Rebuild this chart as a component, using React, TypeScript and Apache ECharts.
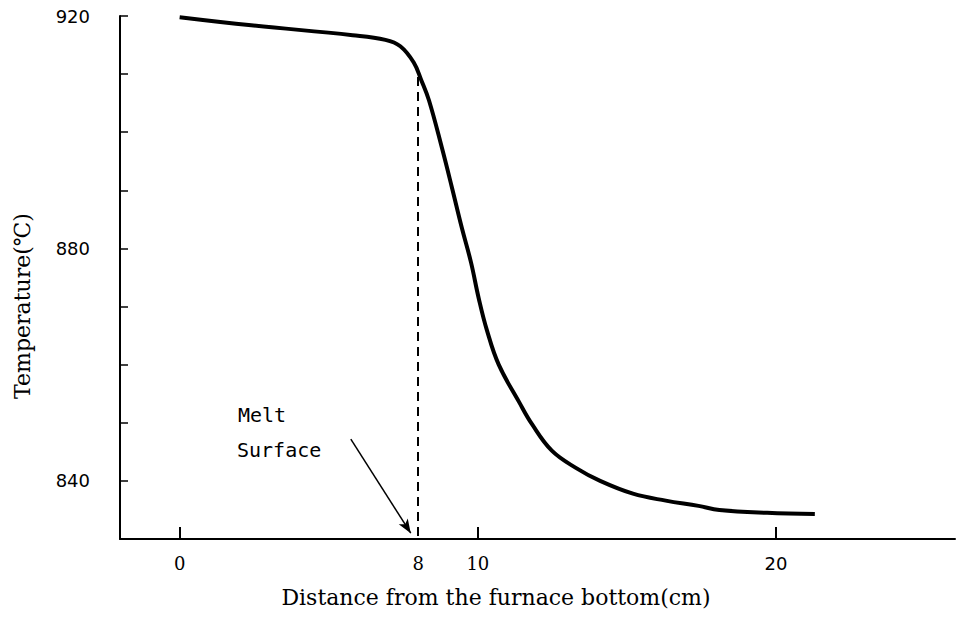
import React, { useEffect, useRef } from "react";
import * as echarts from "echarts";

const distances = [0, 2.4, 5.8, 6.9, 7.4, 7.85, 8.1, 8.36, 8.79, 9.13, 9.46, 9.77, 10.03, 10.3, 10.7, 11.38, 11.81, 12.48, 13.3, 14.1, 15.2, 16.3, 17.4, 18.1, 19.7, 21.3];
const temperatures = [919.8, 918.4, 916.7, 915.9, 914.8, 912.0, 909.0, 905.5, 897.4, 890.5, 883.6, 877.6, 871.4, 866.0, 860.0, 853.6, 849.8, 845.2, 842.2, 840.0, 837.8, 836.6, 835.7, 835.0, 834.5, 834.3];
const xTickValues = [0, 10, 20];
const xLabelValues = [0, 8, 10, 20];
const yLabelValues = [840, 880, 920];
const meltSurfaceX = 8;
const meltLineTop = 909.5;
const arrowFrom = [5.74, 847.2];
const arrowTo = [7.75, 831];

export default function App() {
  const ref = useRef<HTMLDivElement>(null);
  useEffect(() => {
    if (!ref.current) return;
    const chart = echarts.init(ref.current, null, { renderer: "svg" });
    const serif = "DejaVu Serif";
    chart.setOption({
      animation: false,
      backgroundColor: "#fff",
      grid: { left: 120, right: 3, top: 16, bottom: 88, containLabel: false },
      xAxis: {
        type: "value",
        min: -2,
        max: 26,
        interval: 2,
        axisLine: { show: true, onZero: false, lineStyle: { color: "#000", width: 2 } },
        axisTick: { show: true, inside: true, length: 12, customValues: xTickValues, lineStyle: { color: "#000", width: 2 } },
        axisLabel: {
          margin: 15,
          color: "#000",
          fontSize: 18,
          fontFamily: serif,
          formatter: (v: number) => (xLabelValues.includes(v) ? (v === 20 ? "{s|20}" : String(v)) : ""),
          rich: { s: { fontFamily: "DejaVu Sans", fontSize: 18, color: "#000" } },
        },
        splitLine: { show: false },
      },
      yAxis: {
        type: "value",
        min: 830,
        max: 920,
        interval: 10,
        axisLine: { show: true, onZero: false, lineStyle: { color: "#000", width: 2 } },
        axisTick: { show: true, inside: true, length: 8, lineStyle: { color: "#000", width: 1.5 } },
        axisLabel: {
          margin: 30,
          color: "#000",
          fontSize: 18,
          fontFamily: "DejaVu Sans",
          formatter: (v: number) => (yLabelValues.includes(v) ? String(v) : ""),
        },
        splitLine: { show: false },
      },
      graphic: [
        { type: "text", left: 238, top: 405, style: { text: "Melt", fontFamily: "DejaVu Sans Mono", fontSize: 20, fill: "#000" } },
        { type: "text", left: 237, top: 440, style: { text: "Surface", fontFamily: "DejaVu Sans Mono", fontSize: 20, fill: "#000" } },
        {
          type: "text",
          x: 22,
          y: 306,
          rotation: Math.PI / 2,
          style: { text: "Temperature(℃)", fontFamily: serif, fontSize: 22, fill: "#000", align: "center", verticalAlign: "middle" },
        },
        {
          type: "text",
          x: 496,
          y: 597,
          style: { text: "Distance from the furnace bottom(cm)", fontFamily: serif, fontSize: 22, fill: "#000", align: "center", verticalAlign: "middle" },
        },
      ],
      series: [
        {
          type: "line",
          data: distances.map((d, i) => [d, temperatures[i]]),
          smooth: 0.4,
          showSymbol: false,
          lineStyle: { color: "#000", width: 4 },
          markLine: {
            silent: true,
            animation: false,
            label: { show: false },
            data: [
              [
                { coord: [meltSurfaceX, meltLineTop], symbol: "none", lineStyle: { type: [9, 6], width: 2, color: "#000" } },
                { coord: [meltSurfaceX, 830], symbol: "none" },
              ],
              [
                { coord: arrowFrom, symbol: "none", lineStyle: { type: "solid", width: 1.5, color: "#000" } },
                { coord: arrowTo, symbol: "arrow", symbolSize: [8, 14] },
              ],
            ],
          },
        },
      ],
    });
    return () => chart.dispose();
  }, []);
  return <div ref={ref} style={{ position: "fixed", left: 0, top: 0, width: 958, height: 627 }} />;
}
